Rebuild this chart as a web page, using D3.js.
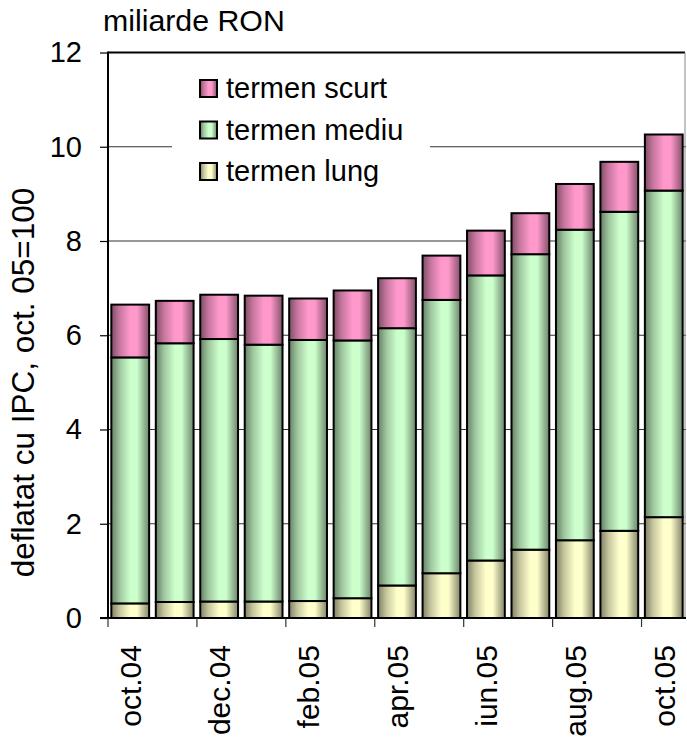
<!DOCTYPE html>
<html>
<head>
<meta charset="utf-8">
<script src="https://cdn.jsdelivr.net/npm/d3@7"></script>
<style>
  html, body { margin: 0; padding: 0; background: #fff; }
  svg { display: block; font-family: "Liberation Sans", Arial, sans-serif; }
</style>
</head>
<body>
<svg id="chart" width="687" height="738"></svg>
<script>
// ---------------------------------------------------------------------------
// Data (miliarde RON, deflatat cu IPC, oct. 05=100)
// ---------------------------------------------------------------------------

const months = ["oct.04", "nov.04", "dec.04", "ian.05", "feb.05", "mar.05", "apr.05",
  "mai.05", "iun.05", "iul.05", "aug.05", "sep.05", "oct.05"];

const termenLung = [0.31, 0.34, 0.35, 0.35, 0.36, 0.42, 0.69, 0.95, 1.22, 1.45, 1.65, 1.85, 2.14];
const termenMediu = [5.22, 5.49, 5.57, 5.45, 5.54, 5.47, 5.46, 5.80, 6.05, 6.27, 6.59, 6.77, 6.93];
const termenScurt = [1.12, 0.90, 0.94, 1.04, 0.88, 1.06, 1.06, 0.94, 0.95, 0.87, 0.97, 1.06, 1.19];

const seriesNames = ["termen lung", "termen mediu", "termen scurt"];
const legendOrder = ["termen scurt", "termen mediu", "termen lung"];
const yTicks = [0, 2, 4, 6, 8, 10, 12];

(function () {
  // -------------------------------------------------------------------------
  // Layout
  // -------------------------------------------------------------------------

  const svg = d3.select("#chart");
  const plotLeft = 108, plotRight = 686, plotTop = 52.5, plotBottom = 618;

  const colors = {
    "termen lung": "#ffffcc",
    "termen mediu": "#ccffcc",
    "termen scurt": "#ff99cc",
  };

  const rows = months.map((m, i) => ({
    month: m,
    "termen lung": termenLung[i],
    "termen mediu": termenMediu[i],
    "termen scurt": termenScurt[i],
  }));

  const x = d3.scaleBand().domain(months).range([plotLeft, plotRight])
    .paddingInner(0.15).paddingOuter(0.075);
  const y = d3.scaleLinear().domain([0, 12]).range([plotBottom, plotTop]);

  // cylinder-ish horizontal gradients
  const defs = svg.append("defs");
  seriesNames.forEach((name, i) => {
    const dark = d3.interpolateRgb(colors[name], "#000");
    const g = defs.append("linearGradient")
      .attr("id", "grad" + i)
      .attr("x1", 0).attr("x2", 1).attr("y1", 0).attr("y2", 0);
    [[0, 0.5], [0.22, 0.22], [0.5, 0], [0.68, 0], [0.86, 0.27], [1, 0.47]].forEach(([o, t]) => {
      g.append("stop").attr("offset", o).attr("stop-color", dark(t));
    });
  });

  // gridlines
  svg.append("g")
    .selectAll("line")
    .data(yTicks.filter((t) => t > 0 && t < 12))
    .join("line")
    .attr("x1", plotLeft).attr("x2", plotRight)
    .attr("y1", (d) => y(d)).attr("y2", (d) => y(d))
    .attr("stroke", "#333").attr("stroke-width", 1);

  // plot frame top + right
  svg.append("line").attr("x1", plotLeft).attr("x2", plotRight - 1)
    .attr("y1", plotTop).attr("y2", plotTop).attr("stroke", "#000").attr("stroke-width", 2);
  svg.append("line").attr("x1", plotRight - 1).attr("x2", plotRight - 1)
    .attr("y1", plotTop).attr("y2", plotBottom).attr("stroke", "#888").attr("stroke-width", 1);

  // legend background hides the gridline behind it
  svg.append("rect").attr("x", 172).attr("y", 64).attr("width", 258).attr("height", 136)
    .attr("fill", "#fff");

  // bars
  const stacked = d3.stack().keys(seriesNames)(rows);
  svg.append("g")
    .selectAll("g")
    .data(stacked)
    .join("g")
    .attr("fill", (d, i) => `url(#grad${i})`)
    .selectAll("rect")
    .data((d) => d)
    .join("rect")
    .attr("x", (d) => x(d.data.month))
    .attr("width", x.bandwidth())
    .attr("y", (d) => y(d[1]))
    .attr("height", (d) => y(d[0]) - y(d[1]))
    .attr("stroke", "#000")
    .attr("stroke-width", 2);

  // y axis
  const yAxis = svg.append("g")
    .attr("transform", `translate(${plotLeft},0)`)
    .call(d3.axisLeft(y).tickValues(yTicks).tickSize(8).tickPadding(18).tickFormat(d3.format("d")));
  yAxis.select(".domain").attr("stroke-width", 2).attr("d", `M0,${plotTop - 1}V${plotBottom + 1}`);
  yAxis.selectAll(".tick line").attr("stroke-width", 1.2);
  yAxis.selectAll("text").attr("font-size", 29).attr("fill", "#000")
    .attr("font-family", "Liberation Sans, Arial, sans-serif");

  // x axis: ticks at every second category boundary, labels under every second bar
  const xAxisG = svg.append("g");
  xAxisG.append("line").attr("x1", plotLeft - 8).attr("x2", plotRight)
    .attr("y1", plotBottom).attr("y2", plotBottom).attr("stroke", "#000").attr("stroke-width", 2);
  const half = (x.step() * x.paddingInner()) / 2;
  const labelled = months.filter((m, i) => i % 2 === 0);
  xAxisG.selectAll(".xtick")
    .data(labelled)
    .join("line")
    .attr("class", "xtick")
    .attr("x1", (d) => x(d) - half)
    .attr("x2", (d) => x(d) - half)
    .attr("y1", plotBottom).attr("y2", plotBottom + 9)
    .attr("stroke", "#333").attr("stroke-width", 1.2);
  xAxisG.selectAll(".xlabel")
    .data(labelled)
    .join("text")
    .attr("class", "xlabel")
    .attr("transform", (d) => `translate(${x(d) + x.bandwidth() / 2 + 11},645) rotate(-90)`)
    .attr("text-anchor", "end")
    .attr("font-size", 30)
    .text((d) => d);

  // unit label
  svg.append("text").attr("x", 103).attr("y", 31).attr("font-size", 30.3).text("miliarde RON");

  // y axis title
  svg.append("text")
    .attr("transform", "translate(34,382.5) rotate(-90)")
    .attr("text-anchor", "middle")
    .attr("font-size", 31.5)
    .text("deflatat cu IPC, oct. 05=100");

  // legend
  const legend = svg.append("g").selectAll("g")
    .data(legendOrder)
    .join("g")
    .attr("transform", (d, i) => `translate(200,${80 + i * 41.5})`);
  legend.append("rect").attr("width", 17).attr("height", 17)
    .attr("fill", (d) => `url(#grad${seriesNames.indexOf(d)})`)
    .attr("stroke", "#000").attr("stroke-width", 2);
  legend.append("text").attr("x", 26).attr("y", 18).attr("font-size", 29).text((d) => d);
})();
</script>
</body>
</html>
